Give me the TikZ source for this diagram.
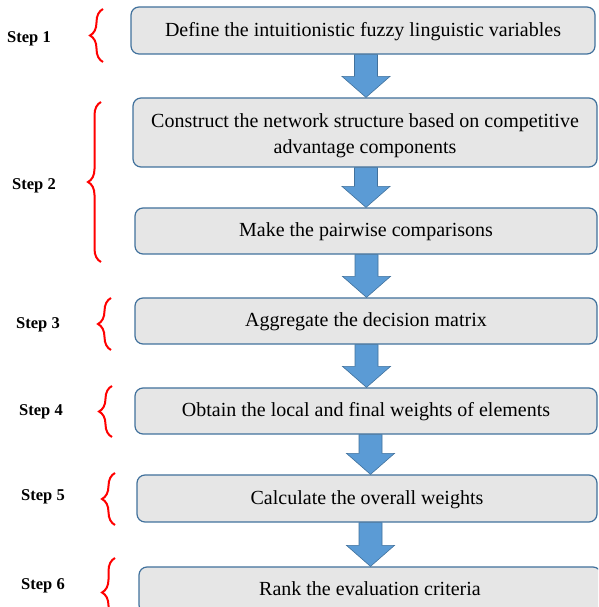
\documentclass[tikz,border=0pt]{standalone}
\usepackage{fontspec}
\setmainfont{Liberation Serif}
\usetikzlibrary{calc,decorations.pathreplacing}
\definecolor{boxfill}{HTML}{E6E6E6}
\definecolor{boxline}{HTML}{41719C}
\definecolor{arrfill}{HTML}{5B9BD5}
\definecolor{bracered}{HTML}{FF0000}
\newcommand\blockarrow[3]{%
  \draw[arrowbox] let \p1=(#1.south), \p2=(#2.north) in
    (#3-11.5pt,\y1) -- (#3+11.5pt,\y1) -- (#3+11.5pt,\y2+21pt) -- (#3+24pt,\y2+21pt)
    -- (#3,\y2) -- (#3-24pt,\y2+21pt) -- (#3-11.5pt,\y2+21pt) -- cycle;}
\begin{document}
\begin{tikzpicture}[x=1pt,y=1pt,
  stepbox/.style={draw=boxline, fill=boxfill, line width=1.2pt, rounded corners=8pt,
    inner sep=0pt, align=center, font=\fontsize{20}{26}\selectfont,
    text height=14.5pt, text depth=2.5pt},
  arrowbox/.style={fill=arrfill, draw=boxline, line width=0.6pt},
  steplabel/.style={font=\fontsize{16.5}{20}\selectfont\bfseries, inner sep=0pt},
  redbrace/.style={draw=bracered, line width=2pt, decorate,
    decoration={brace, amplitude=13pt, aspect=0.5}}]
\useasboundingbox (0,0) rectangle (598,607);
\begin{scope}
\clip (0,0) rectangle (598,607);
\node[stepbox, minimum width=464, minimum height=47] (b1) at (363,576.5)
  {Define the intuitionistic fuzzy linguistic variables};
\node[draw=boxline, fill=boxfill, line width=1.2pt, rounded corners=8pt, inner sep=0pt,
  minimum width=464, minimum height=69,
  label={[font=\fontsize{20}{26}\selectfont, align=center, inner sep=0pt, yshift=-3.3pt]center:Construct the network structure based on competitive\\advantage components}]
  (b2) at (365,474.5) {};
\node[stepbox, minimum width=462, minimum height=46] (b3) at (366,376)
  {Make the pairwise comparisons};
\node[stepbox, minimum width=462, minimum height=46] (b4) at (366,286)
  {Aggregate the decision matrix};
\node[stepbox, minimum width=462, minimum height=46] (b5) at (366,196)
  {Obtain the local and final weights of elements};
\node[stepbox, minimum width=460, minimum height=47] (b6) at (367,108.5)
  {Calculate the overall weights};
\node[stepbox, minimum width=462, minimum height=46] (b7) at (370,17)
  {Rank the evaluation criteria};

\blockarrow{b1}{b2}{366}
\blockarrow{b2}{b3}{366}
\blockarrow{b3}{b4}{366.5}
\blockarrow{b4}{b5}{366.5}
\blockarrow{b5}{b6}{370.5}
\blockarrow{b6}{b7}{370.5}

\node[steplabel] (s1) at (29,568) {Step 1};
\node[steplabel] (s2) at (34,421) {Step 2};
\node[steplabel] (s3) at (38,282) {Step 3};
\node[steplabel] (s4) at (41,195) {Step 4};
\node[steplabel] (s5) at (43,110) {Step 5};
\node[steplabel] (s6) at (43,21) {Step 6};

\coordinate (r1a) at (103,545); \coordinate (r1b) at (103,598);
\coordinate (r2a) at (101,345); \coordinate (r2b) at (101,505);
\coordinate (r3a) at (111,257); \coordinate (r3b) at (111,309);
\coordinate (r4a) at (112,170); \coordinate (r4b) at (112,221);
\coordinate (r5a) at (115,82);  \coordinate (r5b) at (115,134);
\coordinate (r6a) at (115,-20); \coordinate (r6b) at (115,49);
\draw[redbrace] (r1a) -- (r1b);
\draw[redbrace] (r2a) -- (r2b);
\draw[redbrace] (r3a) -- (r3b);
\draw[redbrace] (r4a) -- (r4b);
\draw[redbrace] (r5a) -- (r5b);
\draw[redbrace] (r6a) -- (r6b);
\end{scope}
\end{tikzpicture}
\end{document}
